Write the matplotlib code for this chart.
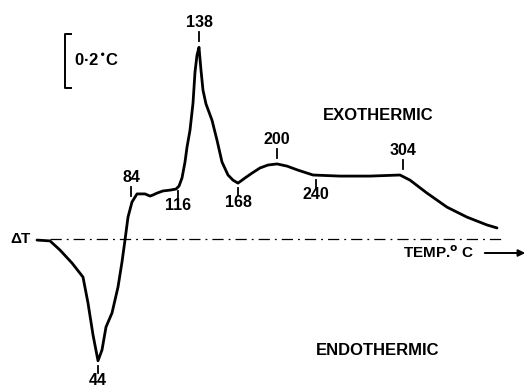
import matplotlib
matplotlib.use("Agg")
import matplotlib.pyplot as plt

# DTA trace: chart position (along the recording) and deflection dT in deg C
chart_pos = [37, 50, 60, 72, 83, 88, 93, 98, 102, 106, 112, 118, 122, 125, 128,
             132, 137, 145, 150, 153, 157, 163, 170, 176, 179, 182, 185, 187,
             190, 193, 195, 197, 199, 201, 203, 206, 212, 217, 222, 228, 233,
             238, 245, 252, 260, 268, 277, 287, 298, 313, 340, 370, 400, 410,
             427, 447, 467, 487, 497]
delta_t = [-0.004, -0.007, -0.041, -0.089, -0.141, -0.237, -0.355, -0.451,
           -0.411, -0.326, -0.274, -0.178, -0.085, -0.004, 0.081, 0.137, 0.167,
           0.167, 0.159, 0.163, 0.170, 0.178, 0.181, 0.185, 0.196, 0.226, 0.285,
           0.340, 0.403, 0.503, 0.618, 0.681, 0.710, 0.625, 0.551, 0.500, 0.440,
           0.366, 0.285, 0.237, 0.218, 0.207, 0.226, 0.244, 0.263, 0.274, 0.278,
           0.270, 0.255, 0.237, 0.233, 0.233, 0.237, 0.218, 0.170, 0.118, 0.081,
           0.052, 0.041]

# marked temperatures (deg C), where they sit on the trace, and label side
peak_temps = [44, 84, 116, 138, 168, 200, 240, 304]
peak_pos = [98, 131, 178, 199, 238, 277, 316, 403]
peak_side = ["below", "above", "below", "above", "below", "above", "below", "above"]

scale_bar = 0.2  # deg C

px = 0.2 / 54.0  # dT per pixel of height
font = "Liberation Sans"

fig = plt.figure(figsize=(5.29, 3.90), dpi=100)
ax = fig.add_axes([0, 0, 1, 1])
ax.set_xlim(0, 529)
ax.set_ylim((239 - 390) * px, 239 * px)
ax.axis("off")

# zero line
ax.plot([50, 503], [0, 0], color="black", lw=0.9,
        linestyle=(0, (9, 4, 1.5, 4)))

ax.plot(chart_pos, delta_t, color="black", lw=2.0,
        solid_joinstyle="round", solid_capstyle="round")

for t, p, side in zip(peak_temps, peak_pos, peak_side):
    # value of the trace at the marked position
    y = min(zip(chart_pos, delta_t), key=lambda c: abs(c[0] - p))[1]
    if side == "above":
        y0, y1 = y + 6 * px, y + 15 * px
        ax.plot([p, p], [y0, y1], color="black", lw=1.3)
        ax.text(p, y1 + 2 * px, str(t), ha="center", va="bottom",
                fontsize=11.5, family=font, weight="bold")
    else:
        y0, y1 = y - 5 * px, y - 12 * px
        ax.plot([p, p], [y0, y1], color="black", lw=1.3)
        ax.text(p, y1, str(t), ha="center", va="top",
                fontsize=11.5, family=font, weight="bold")

# 0.2 deg C scale bracket
top = (239 - 34) * px
ax.plot([71, 65, 65, 71], [top, top, top - scale_bar, top - scale_bar],
        color="black", lw=1.4)
ax.text(74, top - scale_bar / 2, "0·2$^{\\bullet}$C", ha="left", va="center",
        fontsize=12, family=font, weight="bold")

ax.text(31, 0, "ΔT", ha="right", va="center", fontsize=11, family=font,
        weight="bold")
ax.text(378, (239 - 115) * px, "EXOTHERMIC", ha="center", va="center",
        fontsize=12, family=font, weight="bold")
ax.text(378, (239 - 350) * px, "ENDOTHERMIC", ha="center", va="center",
        fontsize=12, family=font, weight="bold")
ax.text(474, (239 - 253) * px, "TEMP.$^{\\mathbf{o}}$ C", ha="right", va="center",
        fontsize=11, family=font, weight="bold")
ax.annotate("", xy=(528, (239 - 253) * px), xytext=(482, (239 - 253) * px),
            arrowprops=dict(arrowstyle="-|>", color="black", lw=1.4,
                            mutation_scale=10))

fig.savefig("out.png", dpi=100)
